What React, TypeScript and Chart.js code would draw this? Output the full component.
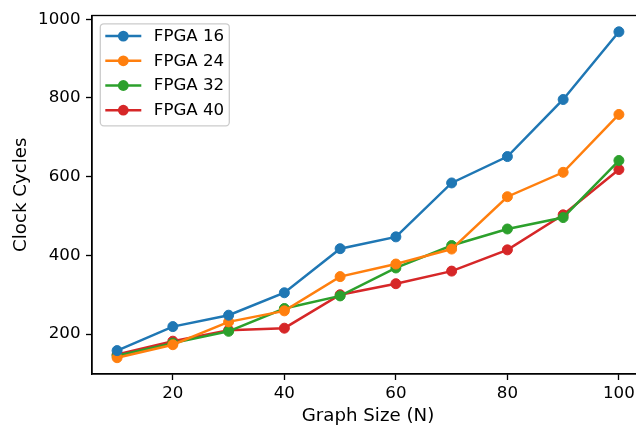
import React, { useEffect, useRef } from "react";
import { Chart, registerables } from "chart.js";

Chart.register(...registerables);

const graphSizes = [10, 20, 30, 40, 50, 60, 70, 80, 90, 100];
const fpga16 = [158, 219, 248, 305, 417, 447, 584, 651, 796, 968];
const fpga24 = [140, 173, 231, 259, 346, 378, 416, 549, 611, 758];
const fpga32 = [145, 177, 207, 265, 297, 368, 425, 467, 496, 641];
const fpga40 = [148, 182, 210, 215, 300, 328, 360, 414, 503, 618];
const seriesLabels = ["FPGA 16", "FPGA 24", "FPGA 32", "FPGA 40"];
const seriesColors = ["#1f77b4", "#ff7f0e", "#2ca02c", "#d62728"];
const xTicks = [20, 40, 60, 80, 100];
const yTicks = [200, 400, 600, 800, 1000];

const FONT = '"DejaVu Sans", sans-serif';
const FS = 16.67;
const TFS = 18.2;

const framePlugin = {
  id: "frame",
  afterDatasetsDraw(chart: any) {
    const { ctx, chartArea } = chart;
    ctx.save();
    ctx.strokeStyle = "#000";
    ctx.lineWidth = 1.33;
    ctx.strokeRect(chartArea.left, chartArea.top, chartArea.right - chartArea.left, chartArea.bottom - chartArea.top);
    ctx.restore();
  },
};

const legendPlugin = {
  id: "mplLegend",
  afterDraw(chart: any) {
    const { ctx, chartArea } = chart;
    const bx = chartArea.left + 8.3;
    const by = chartArea.top + 8.3;
    const bw = 129;
    const bh = 102;
    ctx.save();
    ctx.beginPath();
    ctx.roundRect(bx, by, bw, bh, 3.5);
    ctx.fillStyle = "rgba(255,255,255,0.8)";
    ctx.fill();
    ctx.strokeStyle = "#cccccc";
    ctx.lineWidth = 1.3;
    ctx.stroke();
    ctx.font = `${FS}px ${FONT}`;
    ctx.textBaseline = "middle";
    ctx.textAlign = "left";
    chart.data.datasets.forEach((ds: any, i: number) => {
      const y = by + 12.3 + i * 24.7;
      const x0 = bx + 5;
      const x1 = bx + 41;
      ctx.strokeStyle = ds.borderColor;
      ctx.lineWidth = 2.5;
      ctx.beginPath();
      ctx.moveTo(x0, y);
      ctx.lineTo(x1, y);
      ctx.stroke();
      ctx.fillStyle = ds.borderColor;
      ctx.beginPath();
      ctx.arc((x0 + x1) / 2, y, 5.4, 0, Math.PI * 2);
      ctx.fill();
      ctx.fillStyle = "#000";
      ctx.fillText(ds.label, x1 + 12.5, y + 0.5);
    });
    ctx.restore();
  },
};

export default function App() {
  const ref = useRef<HTMLCanvasElement | null>(null);
  useEffect(() => {
    document.body.style.margin = "0";
    const series = [fpga16, fpga24, fpga32, fpga40];
    const chart = new Chart(ref.current!, {
      type: "line",
      data: {
        datasets: series.map((vals, i) => ({
          label: seriesLabels[i],
          data: graphSizes.map((x, j) => ({ x, y: vals[j] })),
          borderColor: seriesColors[i],
          backgroundColor: seriesColors[i],
          pointBackgroundColor: seriesColors[i],
          pointBorderColor: seriesColors[i],
          borderWidth: 2.5,
          pointRadius: 5,
          pointBorderWidth: 1,
          tension: 0,
          fill: false,
        })),
      },
      options: {
        animation: false,
        responsive: false,
        devicePixelRatio: 1,
        layout: { padding: { left: 0, top: 13, right: 4, bottom: 0 } },
        plugins: { legend: { display: false }, tooltip: { enabled: false } },
        scales: {
          x: {
            type: "linear",
            min: 5.5,
            max: 104.5,
            afterBuildTicks: (s: any) => {
              s.ticks = xTicks.map((v) => ({ value: v }));
            },
            afterFit: (s: any) => {
              s.height = 53;
            },
            grid: {
              display: true,
              drawOnChartArea: false,
              drawTicks: true,
              tickLength: 6,
              tickColor: "#000",
              tickWidth: 1.33,
            },
            border: { display: true, color: "#000", width: 1.33 },
            ticks: {
              color: "#000",
              font: { family: FONT, size: FS },
              padding: 3.5,
              maxRotation: 0,
              callback: (v: any) => String(v),
            },
            title: {
              display: true,
              text: "Graph Size (N)",
              color: "#000",
              font: { family: FONT, size: TFS },
              padding: { top: 0, bottom: 0 },
            },
          },
          y: {
            type: "linear",
            min: 98.6,
            max: 1009.4,
            afterBuildTicks: (s: any) => {
              s.ticks = yTicks.map((v) => ({ value: v }));
            },
            afterFit: (s: any) => {
              s.width = 92;
            },
            grid: {
              display: true,
              drawOnChartArea: false,
              drawTicks: true,
              tickLength: 6,
              tickColor: "#000",
              tickWidth: 1.33,
            },
            border: { display: true, color: "#000", width: 1.33 },
            ticks: {
              color: "#000",
              font: { family: FONT, size: FS },
              padding: 5.5,
              callback: (v: any) => String(v),
            },
            title: {
              display: true,
              text: "Clock Cycles",
              color: "#000",
              font: { family: FONT, size: TFS },
              padding: { top: 10, bottom: 0 },
            },
          },
        },
      },
      plugins: [framePlugin, legendPlugin],
    });
    return () => chart.destroy();
  }, []);
  return (
    <div style={{ width: 636, height: 427, overflow: "hidden", background: "#fff" }}>
      <canvas ref={ref} width={650} height={427} style={{ width: 650, height: 427, display: "block" }} />
    </div>
  );
}
